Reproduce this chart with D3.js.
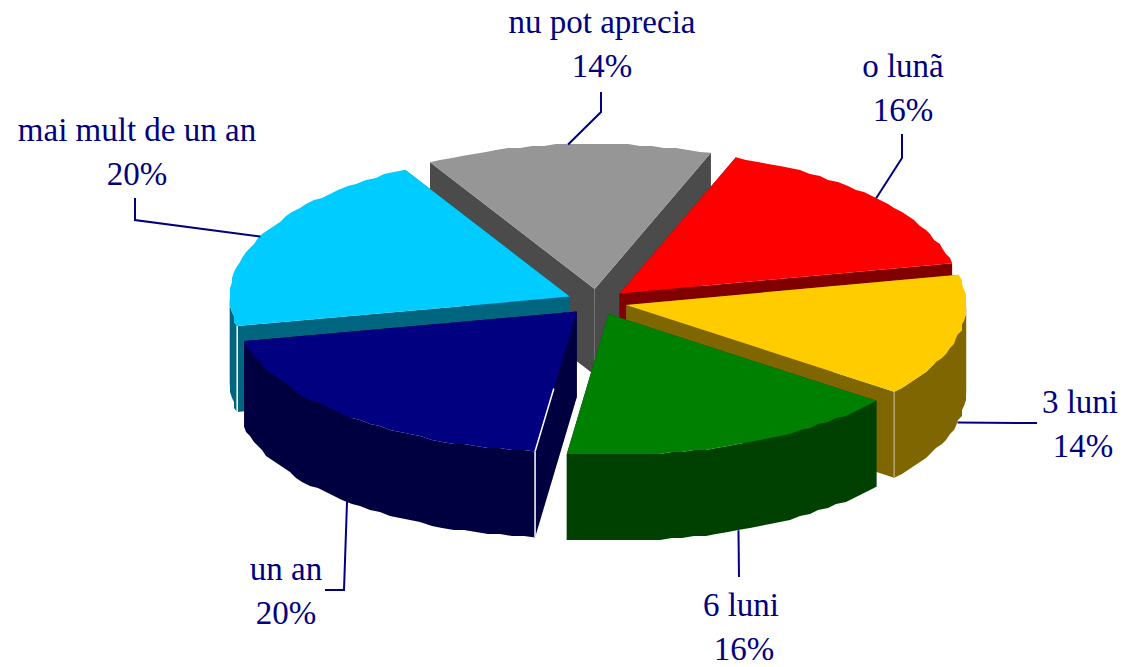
<!DOCTYPE html>
<html>
<head>
<meta charset="utf-8">
<script src="https://cdn.jsdelivr.net/npm/d3@7"></script>
<style>
  html, body { margin: 0; background: #fff; }
  text { font-family: "Liberation Serif", serif; font-size: 33px; fill: #000080; text-anchor: middle; }
</style>
</head>
<body>
<div id="chart"></div>
<script>
// -- DATA -- //
const categories = ["o lunã", "3 luni", "6 luni", "un an", "mai mult de un an", "nu pot aprecia"];
// the labels show them rounded
const values = [16.1, 13.9, 16.4, 19.7, 20.3, 13.6];

// -- STYLE -- //
const topColors = ["#ff0000", "#ffcc00", "#008000", "#000080", "#00ccff", "#969696"];
const wallColors = ["#800000", "#806600", "#004000", "#000040", "#006680", "#4b4b4b"];
// light corner lines on the cut walls: [which cut, color]
const cornerLines = [null, ["end", "#b5a672"], null, ["start", "#ffffff"], ["start", "#ffffff"], null];

// label center + baseline of first row, then leader elbows
const labelSpots = [
    { x: 903, y: 77, elbows: [[902, 158], [902, 134]] },
    { x: 1080, y: 413, elbows: [[1017, 423], [1037, 423]] },
    { x: 741, y: 616, elbows: [[739, 577]] },
    { x: 286, y: 580, elbows: [[344, 590], [325, 590]] },
    { x: 137, y: 141, elbows: [[135, 220], [135, 198]] },
    { x: 602, y: 33, elbows: [[601, 112], [601, 92]] }
];

var width = 1122;
var height = 667;

// pie geometry
const cx = 597, cy = 302;
const rx = 340;
const ryBack = 145, ryFront = 141;   // front half is a bit flatter in the original
const explodeX = 30, explodeY = 13;
const depth = 86;
const firstAngle = 20 * Math.PI / 180;
const rimGrid = 2;     // the rim of the original is stepped, not smooth
const rimStep = 2 * Math.PI / 180;

const svg = d3.select("#chart").append("svg")
    .attr("width", width)
    .attr("height", height);

const pie = d3.pie().sort(null).startAngle(firstAngle).endAngle(firstAngle + 2 * Math.PI);
const arcs = pie(values).map((d, i) => {
    d.mid = (d.startAngle + d.endAngle) / 2;
    d.i = i;
    d.tipX = cx + explodeX * Math.sin(d.mid);
    d.tipY = cy - explodeY * Math.cos(d.mid);
    return d;
});

let rimPoint = (d, a) => {
    let c = Math.cos(a);
    return [d.tipX + rx * Math.sin(a), d.tipY - (c > 0 ? ryBack : ryFront) * c];
};
let down = (p) => [p[0], p[1] + depth];
let lineGen = d3.line();

// stepped points along the rim between two angles
let rimPoints = (d, a0, a1) => {
    let n = Math.max(1, Math.round((a1 - a0) / rimStep));
    let pts = d3.range(n + 1).map((k) => {
        let p = rimPoint(d, a0 + (a1 - a0) * k / n);
        if (k === 0 || k === n) return p;
        return [Math.round(p[0] / rimGrid) * rimGrid, Math.round(p[1] / rimGrid) * rimGrid];
    });
    return pts;
};

// back slices first
const order = arcs.slice().sort((a, b) => Math.cos(b.mid) - Math.cos(a.mid));

const slices = svg.selectAll("g.slice")
    .data(order)
    .enter()
    .append("g")
    .attr("class", "slice");

slices.each(function (d) {
    let g = d3.select(this);
    let tip = [d.tipX, d.tipY];
    let a = rimPoint(d, d.startAngle);
    let b = rimPoint(d, d.endAngle);

    // both cut walls
    [a, b].forEach((p) => {
        g.append("path")
            .attr("d", lineGen([tip, p, down(p), down(tip)]) + "Z")
            .attr("fill", wallColors[d.i]);
    });

    // outer wall, front half only
    let from = Math.max(d.startAngle, Math.PI / 2);
    let to = Math.min(d.endAngle, 3 * Math.PI / 2);
    if (to > from) {
        let rim = rimPoints(d, from, to);
        g.append("path")
            .attr("d", lineGen(rim.concat(rim.slice().reverse().map(down))) + "Z")
            .attr("fill", wallColors[d.i]);
    }

    // corner highlight
    let corner = cornerLines[d.i];
    if (corner) {
        let p = corner[0] === "start" ? a : b;
        g.append("path")
            .attr("d", lineGen([p, down(p)]))
            .attr("stroke", corner[1])
            .attr("stroke-width", 1.5)
            .attr("fill", "none");
    }

    // top face
    g.append("path")
        .attr("d", lineGen([tip].concat(rimPoints(d, d.startAngle, d.endAngle))) + "Z")
        .attr("fill", topColors[d.i]);
});

// white edge on the navy slice where the cut meets the wall
const navy = arcs[3];
const navyEdge = rimPoint(navy, navy.startAngle);
svg.append("path")
    .attr("d", lineGen([[navyEdge[0] + (navy.tipX - navyEdge[0]) * 0.45, navyEdge[1] + (navy.tipY - navyEdge[1]) * 0.45], navyEdge]))
    .attr("stroke", "#ffffff")
    .attr("stroke-width", 1.5)
    .attr("fill", "none");

// -- LEADERS -- //
svg.selectAll("path.leader")
    .data(arcs)
    .enter()
    .append("path")
    .attr("class", "leader")
    .attr("d", (d) => {
        let start = rimPoint(d, d.mid);
        if (Math.cos(d.mid) < 0) start = down(start);
        return lineGen([start].concat(labelSpots[d.i].elbows));
    })
    .attr("fill", "none")
    .attr("stroke", "#000080")
    .attr("stroke-width", 2);

// -- LABELS -- //
const labels = svg.selectAll("g.label")
    .data(arcs)
    .enter()
    .append("g")
    .attr("class", "label");

labels.append("text")
    .attr("x", (d) => labelSpots[d.i].x)
    .attr("y", (d) => labelSpots[d.i].y)
    .text((d) => categories[d.i]);

labels.append("text")
    .attr("x", (d) => labelSpots[d.i].x + (d.i === 1 || d.i === 2 ? 3 : 0))
    .attr("y", (d) => labelSpots[d.i].y + 44)
    .text((d) => d3.format(".0f")(d.value) + "%");
</script>
</body>
</html>
